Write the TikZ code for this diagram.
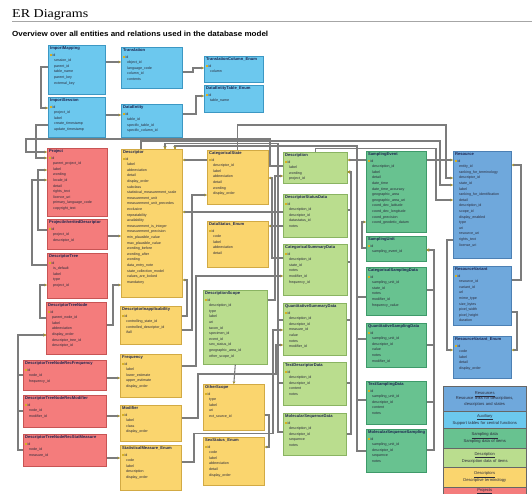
\documentclass[tikz,border=0pt]{standalone}
\usepackage{fontspec}
\usepackage{graphicx}
\setmainfont{Liberation Sans}
\newfontfamily\serifttl{Liberation Serif}
\usetikzlibrary{shadows,arrows.meta}
\definecolor{auxf}{HTML}{6CC8EE}
\definecolor{auxd}{HTML}{3C98C4}
\definecolor{resf}{HTML}{6FA8DC}
\definecolor{resd}{HTML}{4C80B4}
\definecolor{prjf}{HTML}{F47C7C}
\definecolor{prjd}{HTML}{C85454}
\definecolor{dscf}{HTML}{FAD56E}
\definecolor{dscd}{HTML}{D2AA44}
\definecolor{desf}{HTML}{BADD8E}
\definecolor{desd}{HTML}{8AB462}
\definecolor{smpf}{HTML}{68C290}
\definecolor{smpd}{HTML}{3E9A6A}
\definecolor{linec}{HTML}{7C7C7C}
\definecolor{tipc}{HTML}{A89430}
\definecolor{keyc}{HTML}{D8B020}
\definecolor{txtc}{HTML}{2A2A3A}
\definecolor{ttlc}{HTML}{1C2450}
\newcommand\erfont{\fontsize{3.6}{5.6}\selectfont}
\newcommand\ertitle{\fontsize{4.1}{5.6}\selectfont\bfseries\color{ttlc}}
\newcommand\erkey{\textcolor{keyc}{\rule[0.1pt]{1.8pt}{1.8pt}}}
\newcommand\fld{\hspace*{4pt}}
\newcommand\legfont{\fontsize{4.1}{5.4}\selectfont}
\newcommand\erent[8]{%
  \node[erbox,#2,minimum width=#5pt,minimum height=#6pt] (#1) at (#3,#4) {};
  \node[ertext] (#1-t) at ([xshift=2pt,yshift=-1.6pt]#1.north west) {{\ertitle #7}\\[0.8pt]\erkey\,id\\#8};
}
\tikzset{
  erbox/.style={anchor=north west, inner sep=0pt, line width=0.6pt,
    drop shadow={shadow xshift=0.8pt, shadow yshift=-0.8pt, opacity=0.35}},
  aux/.style={fill=auxf, draw=auxd},
  res/.style={fill=resf, draw=resd},
  prj/.style={fill=prjf, draw=prjd},
  dsc/.style={fill=dscf, draw=dscd},
  des/.style={fill=desf, draw=desd},
  smp/.style={fill=smpf, draw=smpd},
  ertext/.style={anchor=north west, align=left, inner sep=0pt, font=\erfont, text=txtc},
  conn/.style={draw=linec, line width=1.1pt, -{Stealth[length=2.6pt,width=2.8pt,color=tipc]}},
  legrow/.style={anchor=north west, draw=black!60, line width=0.5pt, minimum width=83pt,
    text width=81pt, inner xsep=1pt, inner ysep=0.5pt, align=center, font=\legfont, text=txtc}
}
\begin{document}
\begin{tikzpicture}[x=1pt,y=-1pt]
\useasboundingbox (0,0) rectangle (532,493);
\fill[white] (0,0) rectangle (532,493);

% headings
\node[anchor=base west, inner sep=0pt, font=\serifttl\fontsize{12}{14}\selectfont] (ttl) at (12,17) {\resizebox{76pt}{\height}{ER Diagrams}};
\draw[black!35, line width=0.5pt] (ttl.south west |- 0,21.5) -- (532,21.5);
\node[anchor=base west, inner sep=0pt, font=\bfseries\fontsize{7.4}{9}\selectfont] (sub) at (12,36) {\resizebox{256pt}{\height}{Overview over all entities and relations used in the database model}};

% ---------- Auxiliary ----------
\erent{imap}{aux}{48}{45}{57}{49}{ImportMapping}{\fld session\_id\\ \fld parent\_id\\ \fld table\_name\\ \fld parent\_key\\ \fld external\_key}
\erent{isess}{aux}{48}{97}{57}{40}{ImportSession}{\fld project\_id\\ \fld label\\ \fld create\_timestamp\\ \fld update\_timestamp}
\erent{trans}{aux}{121}{47}{61}{41}{Translation}{\fld object\_id\\ \fld language\_code\\ \fld column\_id\\ \fld contents}
\erent{tcol}{aux}{204}{56}{59}{26}{TranslationColumn\_Enum}{\fld column}
\erent{detab}{aux}{204}{85}{59}{27}{DataEntityTable\_Enum}{\fld table\_name}
\erent{dent}{aux}{121}{104}{61}{33}{DataEntity}{\fld table\_id\\ \fld specific\_table\_id\\ \fld specific\_column\_id}

% ---------- Projects ----------
\erent{proj}{prj}{47}{148}{60}{68}{Project}{\fld parent\_project\_id\\ \fld label\\ \fld wording\\ \fld locale\_id\\ \fld detail\\ \fld rights\_text\\ \fld licence\_uri\\ \fld primary\_language\_code\\ \fld copyright\_text}
\erent{pid}{prj}{47}{219}{60}{30}{ProjectInheritedDescriptor}{\fld project\_id\\ \fld descriptor\_id}
\erent{dtree}{prj}{47}{253}{60}{45}{DescriptorTree}{\fld is\_default\\ \fld label\\ \fld type\\ \fld project\_id}
\erent{dtn}{prj}{46}{302}{60}{52}{DescriptorTreeNode}{\fld parent\_node\_id\\ \fld label\\ \fld abbreviation\\ \fld display\_order\\ \fld descriptor\_tree\_id\\ \fld descriptor\_id}
\erent{rfreq}{prj}{23}{360}{83}{30}{DescriptorTreeNodeRecFrequency}{\fld node\_id\\ \fld frequency\_id}
\erent{rmod}{prj}{23}{395}{83}{32}{DescriptorTreeNodeRecModifier}{\fld node\_id\\ \fld modifier\_id}
\erent{rstat}{prj}{23}{434}{83}{32}{DescriptorTreeNodeRecStatMeasure}{\fld node\_id\\ \fld measure\_id}

% ---------- Descriptors ----------
\erent{descr}{dsc}{121}{149}{61}{148}{Descriptor}{\fld label\\ \fld abbreviation\\ \fld detail\\ \fld display\_order\\ \fld subclass\\ \fld statistical\_measurement\_scale\\ \fld measurement\_unit\\ \fld measurement\_unit\_precedes\\ \fld exclusive\\ \fld repeatability\\ \fld availability\\ \fld measurement\_is\_integer\\ \fld measurement\_precision\\ \fld min\_plausible\_value\\ \fld max\_plausible\_value\\ \fld wording\_before\\ \fld wording\_after\\ \fld wording\\ \fld data\_entry\_note\\ \fld state\_collection\_model\\ \fld values\_are\_locked\\ \fld mandatory}
\erent{dinap}{dsc}{120}{306}{61}{38}{DescriptorInapplicability}{\fld controlling\_state\_id\\ \fld controlled\_descriptor\_id\\ \fld ifall}
\erent{freq}{dsc}{120}{354}{61}{43}{Frequency}{\fld label\\ \fld lower\_estimate\\ \fld upper\_estimate\\ \fld display\_order}
\erent{modif}{dsc}{120}{405}{61}{36}{Modifier}{\fld label\\ \fld class\\ \fld display\_order}
\erent{stat}{dsc}{120}{445}{61}{45}{StatisticalMeasure\_Enum}{\fld code\\ \fld label\\ \fld description\\ \fld display\_order}
\erent{cstate}{dsc}{207}{150}{61}{54}{CategoricalState}{\fld descriptor\_id\\ \fld label\\ \fld abbreviation\\ \fld detail\\ \fld wording\\ \fld display\_order}
\erent{dstat}{dsc}{207}{221}{61}{46}{DataStatus\_Enum}{\fld code\\ \fld label\\ \fld abbreviation\\ \fld detail}
\erent{oscope}{dsc}{203}{384}{61}{46}{OtherScope}{\fld type\\ \fld label\\ \fld uri\\ \fld ext\_source\_id}
\erent{sexst}{dsc}{203}{437}{61}{48}{SexStatus\_Enum}{\fld code\\ \fld label\\ \fld abbreviation\\ \fld detail\\ \fld display\_order}

% ---------- Description ----------
\erent{descn}{des}{283}{152}{64}{31}{Description}{\fld label\\ \fld wording\\ \fld project\_id}
\erent{dsd}{des}{283}{194}{64}{43}{DescriptorStatusData}{\fld description\_id\\ \fld descriptor\_id\\ \fld datastatus\_id\\ \fld notes}
\erent{csd}{des}{283}{244}{64}{51}{CategoricalSummaryData}{\fld description\_id\\ \fld state\_id\\ \fld notes\\ \fld modifier\_id\\ \fld frequency\_id}
\erent{dscope}{des}{203}{290}{64}{74}{DescriptionScope}{\fld description\_id\\ \fld type\\ \fld label\\ \fld uri\\ \fld taxon\_id\\ \fld specimen\_id\\ \fld event\_id\\ \fld sex\_status\_id\\ \fld geographic\_area\_id\\ \fld other\_scope\_id}
\erent{qsd}{des}{283}{303}{63}{52}{QuantitativeSummaryData}{\fld description\_id\\ \fld descriptor\_id\\ \fld measure\_id\\ \fld value\\ \fld notes\\ \fld modifier\_id}
\erent{tdd}{des}{283}{362}{63}{43}{TextDescriptorData}{\fld description\_id\\ \fld descriptor\_id\\ \fld content\\ \fld notes}
\erent{msd}{des}{283}{413}{63}{42}{MolecularSequenceData}{\fld description\_id\\ \fld descriptor\_id\\ \fld sequence\\ \fld notes}

% ---------- Sampling data ----------
\erent{sevt}{smp}{366}{151}{60}{81}{SamplingEvent}{\fld description\_id\\ \fld label\\ \fld detail\\ \fld date\_time\\ \fld date\_time\_accuracy\\ \fld geographic\_area\\ \fld geographic\_area\_uri\\ \fld coord\_dec\_latitude\\ \fld coord\_dec\_longitude\\ \fld coord\_precision\\ \fld coord\_geodetic\_datum}
\erent{sunit}{smp}{366}{236}{60}{25}{SamplingUnit}{\fld sampling\_event\_id}
\erent{csamp}{smp}{366}{267}{60}{48}{CategoricalSamplingData}{\fld sampling\_unit\_id\\ \fld state\_id\\ \fld notes\\ \fld modifier\_id\\ \fld frequency\_value}
\erent{qsamp}{smp}{366}{323}{60}{44}{QuantitativeSamplingData}{\fld sampling\_unit\_id\\ \fld descriptor\_id\\ \fld value\\ \fld notes\\ \fld modifier\_id}
\erent{tsamp}{smp}{366}{381}{60}{43}{TextSamplingData}{\fld sampling\_unit\_id\\ \fld descriptor\_id\\ \fld content\\ \fld notes}
\erent{msamp}{smp}{366}{429}{60}{43}{MolecularSequenceSampling}{\fld sampling\_unit\_id\\ \fld descriptor\_id\\ \fld sequence\\ \fld notes}

% ---------- Resources ----------
\erent{res}{res}{453}{151}{58}{107}{Resource}{\fld entity\_id\\ \fld ranking\_for\_terminology\\ \fld descriptor\_id\\ \fld state\_id\\ \fld label\\ \fld ranking\_for\_identification\\ \fld detail\\ \fld description\_id\\ \fld scope\_id\\ \fld display\_enabled\\ \fld type\\ \fld uri\\ \fld resource\_uri\\ \fld rights\_text\\ \fld license\_uri}
\erent{rvar}{res}{453}{266}{58}{59}{ResourceVariant}{\fld resource\_id\\ \fld variant\_id\\ \fld url\\ \fld mime\_type\\ \fld size\_bytes\\ \fld pixel\_width\\ \fld pixel\_height\\ \fld duration}
\erent{rvenum}{res}{453}{336}{58}{42}{ResourceVariant\_Enum}{\fld code\\ \fld label\\ \fld detail\\ \fld display\_order}

% ---------- connectors ----------
% auxiliary
\draw[conn] (imap.west |- 0,67) -- (41,67) -- (41,108) -- (isess.west |- 0,108);
\draw[conn] (imap.east |- 0,62) -- (trans.west |- 0,62);
\draw[conn] (trans.east |- 0,72) -- (193,72) -- (193,68) -- (tcol.west |- 0,68);
\draw[conn] (dent.east |- 0,114) -- (196,114) -- (196,96) -- (detab.west |- 0,96);
\draw[conn] (isess.east |- 0,115) -- (dent.west |- 0,115);
\draw[conn] (isess.west |- 0,125) -- (36,125) -- (36,158) -- (proj.west |- 0,158);
% projects
\draw[conn] (descn.west |- 0,166) -- (270,166) -- (270,139) -- (26,139) -- (26,152) -- (proj.west |- 0,152);
\draw[conn] (pid.west |- 0,230) -- (38,230) -- (38,170) -- (proj.west |- 0,170);
\draw[conn] (pid.east |- 0,236) -- (descr.west |- 0,236);
\draw[conn] (dtree.west |- 0,265) -- (32,265) -- (32,180) -- (proj.west |- 0,180);
\draw[conn] (dtn.west |- 0,318) -- (40,318) -- (40,285) -- (dtree.west |- 0,285);
\draw[conn] (rfreq.west |- 0,375) -- (18,375) -- (18,335) -- (dtn.west |- 0,335);
\draw[conn] (rmod.west |- 0,411) -- (18,411) -- (18,335) -- (dtn.west |- 0,335);
\draw[conn] (rstat.west |- 0,450) -- (18,450) -- (18,335) -- (dtn.west |- 0,335);
\draw[conn] (rfreq.east |- 0,378) -- (freq.west |- 0,378);
\draw[conn] (rmod.east |- 0,416) -- (modif.west |- 0,416);
\draw[conn] (rstat.east |- 0,458) -- (stat.west |- 0,458);
\draw[conn] (dtn.east |- 0,325) -- (113,325) -- (113,285) -- (descr.west |- 0,285);
% descriptors
\draw[conn] (cstate.west |- 0,160) -- (descr.east |- 0,160);
\draw[conn] (dinap.east |- 0,316) -- (187,316) -- (187,280) -- (descr.east |- 0,280);
\draw[conn] (dinap.east |- 0,330) -- (192,330) -- (192,195) -- (cstate.west |- 0,195);
\draw[conn] (freq.east |- 0,366) -- (196,366) -- (196,276) -- (csd.west |- 0,276);
\draw[conn] (modif.east |- 0,418) -- (198,418) -- (198,374) -- (276,374) -- (276,345) -- (qsd.west |- 0,345);
\draw[conn] (stat.east |- 0,462) -- (194,462) -- (194,433.5) -- (273,433.5) -- (273,330) -- (qsd.west |- 0,330);
\draw[conn] (dsd.west |- 0,226) -- (dstat.east |- 0,226);
\draw[conn] (dsd.west |- 0,212) -- (descr.east |- 0,212);
\draw[conn] (csd.west |- 0,258) -- (272,258) -- (272,178) -- (cstate.east |- 0,178);
\draw[conn] (dscope.east |- 0,300) -- (275,300) -- (275,176) -- (descn.west |- 0,176);
\draw[conn] (dscope.south) -- (oscope.north);
\draw[conn] (oscope.east |- 0,415) -- (269,415) -- (269,447) -- (sexst.east |- 0,447);
% descriptor trunks
\draw[conn] (qsd.west |- 0,320) -- (278,320) -- (278,143.5) -- (165,143.5) -- (descr.north -| 165,0);
\draw[conn] (tdd.west |- 0,383) -- (278,383) -- (278,143.5) -- (165,143.5) -- (descr.north -| 165,0);
\draw[conn] (msd.west |- 0,432) -- (278,432) -- (278,143.5) -- (165,143.5) -- (descr.north -| 165,0);
\draw[conn] (csamp.west |- 0,297) -- (357,297) -- (357,146) -- (175,146) -- (descr.north -| 175,0);
\draw[conn] (qsamp.west |- 0,339) -- (357,339) -- (357,146) -- (175,146) -- (descr.north -| 175,0);
\draw[conn] (tsamp.west |- 0,400) -- (357,400) -- (357,146) -- (175,146) -- (descr.north -| 175,0);
\draw[conn] (msamp.west |- 0,451) -- (357,451) -- (357,146) -- (175,146) -- (descr.north -| 175,0);
% description bus
\draw[conn] (dsd.east |- 0,210) -- (351,210) -- (351,172) -- (descn.east |- 0,172);
\draw[conn] (csd.east |- 0,262) -- (351,262) -- (351,172) -- (descn.east |- 0,172);
\draw[conn] (qsd.east |- 0,320) -- (351,320) -- (351,172) -- (descn.east |- 0,172);
\draw[conn] (tdd.east |- 0,383) -- (351,383) -- (351,172) -- (descn.east |- 0,172);
\draw[conn] (msd.east |- 0,434) -- (351,434) -- (351,172) -- (descn.east |- 0,172);
\draw[conn] (sevt.west |- 0,160) -- (descn.east |- 0,160);
% sampling
\draw[conn] (sunit.west |- 0,248) -- (362,248) -- (362,222) -- (sevt.west |- 0,222);
\draw[conn] (csamp.east |- 0,290) -- (434,290) -- (434,250) -- (sunit.east |- 0,250);
\draw[conn] (qsamp.east |- 0,345) -- (434,345) -- (434,250) -- (sunit.east |- 0,250);
\draw[conn] (tsamp.east |- 0,402) -- (434,402) -- (434,250) -- (sunit.east |- 0,250);
\draw[conn] (msamp.east |- 0,450) -- (434,450) -- (434,250) -- (sunit.east |- 0,250);
% resources
\draw[conn] (descr.north -| 141,0) -- (141,141) -- (440,141) -- (440,185) -- (res.west |- 0,185);
\draw[conn] (cstate.north) -- (cstate.north |- 0,125) -- (446,125) -- (446,178) -- (res.west |- 0,178);
\draw[conn] (descn.north) -- (descn.north |- 0,148.5) -- (436,148.5) -- (436,200) -- (res.west |- 0,200);
\draw[conn] (sevt.east |- 0,160) -- (res.west |- 0,160);
\draw[conn] (rvar.east |- 0,280) -- (521,280) -- (521,165) -- (res.east |- 0,165);
\draw[conn] (rvar.east |- 0,312) -- (517,312) -- (517,350) -- (rvenum.east |- 0,350);
\draw[conn] (res.west |- 0,240) -- (447,240) -- (447,350) -- (rvenum.west |- 0,350);

% ---------- legend ----------
\node[legrow, fill=resf, minimum height=25pt] (lres) at (443,386) {\underline{Resources}\\Resource links for descriptions,\\descriptors and states};
\node[legrow, fill=auxf, minimum height=17pt] (laux) at (443,411) {\underline{Auxiliary}\\Support tables for central functions};
\node[legrow, fill=smpf, minimum height=20pt] (lsmp) at (443,428) {\underline{Sampling data}\\Sampling data of items};
\node[legrow, fill=desf, minimum height=19pt] (ldes) at (443,448) {\underline{Description}\\Description data of items};
\node[legrow, fill=dscf, minimum height=20pt] (ldsc) at (443,467) {\underline{Descriptors}\\Descriptive terminology};
\node[legrow, fill=prjf, minimum height=14pt] (lprj) at (443,487) {};
\node[anchor=north, inner sep=0pt, font=\legfont, text=txtc] (lprjt) at ([yshift=-1.2pt]lprj.north) {\underline{Projects}};
\end{tikzpicture}
\end{document}
